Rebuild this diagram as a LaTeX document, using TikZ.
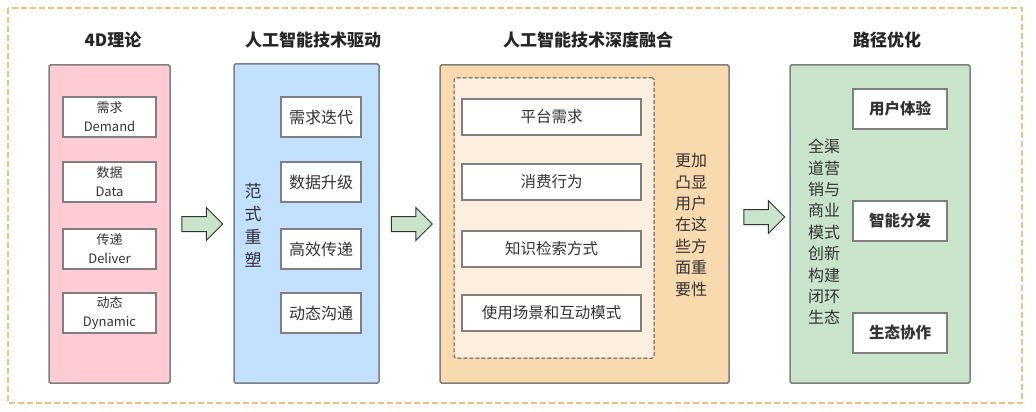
\documentclass[tikz,border=0pt]{standalone}
\usepackage{fontspec}
\setmainfont{Noto Sans CJK SC}
\usepackage{tikz}
\usetikzlibrary{shapes.arrows,positioning,calc}
\definecolor{pinkfill}{HTML}{FFCCD5}
\definecolor{bluefill}{HTML}{C2E0FF}
\definecolor{orangefill}{HTML}{F8DAAE}
\definecolor{palefill}{HTML}{FCEFDF}
\definecolor{greenfill}{HTML}{C9E4CB}
\definecolor{framecol}{HTML}{F5BE7D}
\definecolor{edgecol}{HTML}{7F7F7F}
\definecolor{txtcol}{HTML}{333333}
\tikzset{
	col box/.style={draw=edgecol,line width=1.5pt,rounded corners=1.5pt,
		minimum width=#1,minimum height=318,inner sep=0pt},
	item box/.style 2 args={draw=edgecol,line width=1.5pt,fill=white,
		minimum width=#1,minimum height=#2,inner sep=0pt,text=txtcol,align=center},
	title/.style={font=\fontsize{17}{20}\selectfont\bfseries,text=black!85},
	vtext/.style={align=center,text=txtcol,inner sep=0pt,
		font=\fontsize{16}{21.4}\selectfont},
	big arrow/.style={single arrow,draw=black!80,line width=1pt,fill=greenfill,
		minimum height=41,inner xsep=0pt,inner ysep=7,single arrow head extend=9,
		anchor=center}
}
\begin{document}
\begin{tikzpicture}[x=1pt,y=-1pt]
	\useasboundingbox (0,0) rectangle (1036,412);
	\draw[framecol,line width=1.3pt,dash pattern=on 6pt off 3pt] (8,8) rectangle (1022,403);
	% titles
	\node[title] (t1) at (113,40) {4D理论};
	\node[title] (t2) at (313,40) {人工智能技术驱动};
	\node[title] (t3) at (588,40) {人工智能技术深度融合};
	\node[title] (t4) at (887,40) {路径优化};
	% 4D
	\node[col box=121,fill=pinkfill] (pk) at (109.5,224) {};
	\begin{scope}[every node/.style={item box={93}{40},font=\fontsize{13}{19}\selectfont}]
		\node (pk1) at (109.5,117) {需求\\Demand};
		\node (pk2) at (109.5,182) {数据\\Data};
		\node (pk3) at (109.5,249) {传递\\Deliver};
		\node (pk4) at (109.5,313) {动态\\Dynamic};
	\end{scope}
	\node[big arrow] (arr1) at (198.5,224) {};
	% drive
	\node[col box=145,minimum height=319,fill=bluefill] (bl) at (306.5,223.5) {};
	\node[vtext,font=\fontsize{17}{23}\selectfont] (bltxt) at (253,225) {范\\式\\重\\塑};
	\begin{scope}[every node/.style={item box={80}{40},font=\fontsize{16}{19}\selectfont}]
		\node (bl1) at (321,117) {需求迭代};
		\node (bl2) at (321,182) {数据升级};
		\node (bl3) at (321,249) {高效传递};
		\node (bl4) at (321,313) {动态沟通};
	\end{scope}
	\node[big arrow] (arr2) at (408,224) {};
	% fusion
	\node[col box=289,fill=orangefill] (or) at (584.5,224) {};
	\node[draw=black!70,line width=1pt,dash pattern=on 4pt off 2pt,rounded corners=1.5pt,
		fill=palefill,minimum width=200,minimum height=280] (orin) at (554,218) {};
	\begin{scope}[every node/.style={item box={179}{36},font=\fontsize{15.5}{19}\selectfont}]
		\node (or1) at (551.5,117) {平台需求};
		\node (or2) at (551.5,182) {消费行为};
		\node (or3) at (551.5,249) {知识检索方式};
		\node (or4) at (551.5,313) {使用场景和互动模式};
	\end{scope}
	\node[vtext] (ortxt) at (691,225) {更加\\凸显\\用户\\在这\\些方\\面重\\要性};
	\node[big arrow] (arr3) at (760.5,217) {};
	% path
	\node[col box=180,fill=greenfill] (gr) at (880,224) {};
	\node[vtext] (grtxt) at (824,232) {全渠\\道营\\销与\\商业\\模式\\创新\\构建\\闭环\\生态};
	\begin{scope}[every node/.style={item box={94}{40},font=\fontsize{15.5}{19}\selectfont\bfseries}]
		\node (gr1) at (900,109) {用户体验};
		\node (gr2) at (900,221) {智能分发};
		\node (gr3) at (900,333) {生态协作};
	\end{scope}
\end{tikzpicture}
\end{document}
